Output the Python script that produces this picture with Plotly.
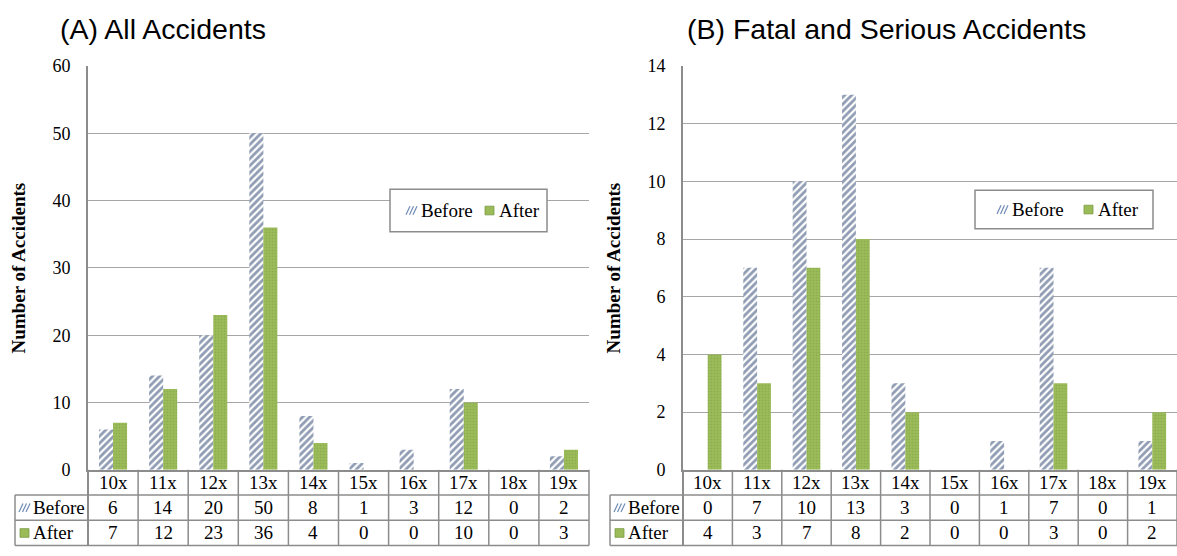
import plotly.graph_objects as go

# ---- data -----------------------------------------------------------------
categories = ["10x", "11x", "12x", "13x", "14x", "15x", "16x", "17x", "18x", "19x"]
all_before = [6, 14, 20, 50, 8, 1, 3, 12, 0, 2]
all_after = [7, 12, 23, 36, 4, 0, 0, 10, 0, 3]
fs_before = [0, 7, 10, 13, 3, 0, 1, 7, 0, 1]
fs_after = [4, 3, 7, 8, 2, 0, 0, 3, 0, 2]
series_names = ["Before", "After"]
panel_titles = ["(A) All Accidents", "(B) Fatal and Serious Accidents"]
y_title = "Number of Accidents"
y_max = [60, 14]
y_step = [10, 2]

# ---- page geometry (pixels) -----------------------------------------------
W, H = 1177, 556
PLOT_TOP, PLOT_BOTTOM = 58, 477
ROW_H = 26.2
SERIF = "Liberation Serif, Times New Roman, serif"
SANS = "Liberation Sans, Arial, sans-serif"
LINE = "#8C8C8C"
BEFORE_FG, BEFORE_BG = "#1F3A68", "#FFFFFF"
AFTER_FG, AFTER_BG = "#7A9A45", "#9BBB59"
KEY_HATCH = "#6F8BB5"
TXT = 19

panels = [
    dict(before=all_before, after=all_after, left=88, right=589, label_left=15,
         title_x=58, box=(390, 186, 547, 230), keys=(407, 485)),
    dict(before=fs_before, after=fs_after, left=683, right=1177, label_left=610,
         title_x=685, box=(975, 187, 1153, 227), keys=(998, 1084)),
]


def fx(p):
    return p / W


def fy(p):
    return 1 - p / H


before_marker = dict(color=BEFORE_BG, line=dict(width=0),
                     pattern=dict(shape="/", fgcolor=BEFORE_FG, bgcolor=BEFORE_BG,
                                  size=5, solidity=0.55))
after_marker = dict(color=AFTER_BG, line=dict(width=0),
                    pattern=dict(shape=".", fgcolor=AFTER_FG, bgcolor=AFTER_BG,
                                 size=3, solidity=0.25))

fig = go.Figure()
shapes = []
annotations = []
layout_axes = {}


def key_swatch(series_idx, x0, yc):
    """Small key: hatched strokes for the first series, green square for the second."""
    if series_idx == 0:
        for d in (0, 3.5, 7):
            shapes.append(dict(type="line", xref="paper", yref="paper", layer="above",
                               x0=fx(x0 + d - 1), y0=fy(yc + 4.5),
                               x1=fx(x0 + d + 3), y1=fy(yc - 4.5),
                               line=dict(color=KEY_HATCH, width=1.2)))
    else:
        shapes.append(dict(type="rect", xref="paper", yref="paper", layer="above",
                           x0=fx(x0), x1=fx(x0 + 9), y0=fy(yc - 4.5), y1=fy(yc + 4.5),
                           fillcolor=AFTER_BG, line=dict(color=AFTER_FG, width=0.8)))


for k, p in enumerate(panels):
    suffix = "" if k == 0 else str(k + 1)
    xa, ya = "x" + suffix, "y" + suffix

    for name, vals, marker in ((series_names[0], p["before"], before_marker),
                               (series_names[1], p["after"], after_marker)):
        fig.add_trace(go.Bar(x=categories, y=vals, name=name, marker=marker,
                             xaxis=xa, yaxis=ya, showlegend=False,
                             hoverinfo="skip"))

    layout_axes["xaxis" + suffix] = dict(
        domain=[fx(p["left"]), min(1.0, fx(p["right"]))],
        anchor=ya, type="category", range=[-0.5, len(categories) - 0.5],
        showticklabels=False, ticks="", showgrid=False, zeroline=False,
        showline=True, linecolor=LINE, linewidth=2, fixedrange=True)
    layout_axes["yaxis" + suffix] = dict(
        domain=[fy(PLOT_BOTTOM), fy(PLOT_TOP)], anchor=xa,
        range=[0, y_max[k]], dtick=y_step[k], tick0=0,
        showgrid=True, gridcolor="#A6A6A6", gridwidth=1.3, zeroline=False,
        showline=True, linecolor=LINE, linewidth=2, ticks="",
        ticklabelstandoff=12, tickfont=dict(family=SERIF, size=18, color="black"),
        fixedrange=True)

    # panel title
    annotations.append(dict(text=panel_titles[k], xref="paper", yref="paper",
                            x=fx(p["title_x"]), y=fy(20), xanchor="left", yanchor="middle",
                            showarrow=False, font=dict(family=SANS, size=28.5, color="black")))
    # y axis title
    annotations.append(dict(text="<b>" + y_title + "</b>", xref="paper", yref="paper",
                            x=fx(p["left"] - 69.5), y=fy((PLOT_TOP + PLOT_BOTTOM) / 2),
                            textangle=-90, xanchor="center", yanchor="middle",
                            showarrow=False, font=dict(family=SERIF, size=TXT, color="black")))

    # legend box with keys
    bx0, by0, bx1, by1 = p["box"]
    shapes.append(dict(type="rect", xref="paper", yref="paper", layer="above",
                       x0=fx(bx0), x1=fx(bx1), y0=fy(by0), y1=fy(by1),
                       fillcolor="white", line=dict(color=LINE, width=1.5)))
    ly = (by0 + by1) / 2
    for s, kx in enumerate(p["keys"]):
        key_swatch(s, kx, ly)
        annotations.append(dict(text=series_names[s], xref="paper", yref="paper",
                                x=fx(kx + 12), y=fy(ly), xanchor="left", yanchor="middle",
                                showarrow=False,
                                font=dict(family=SERIF, size=TXT, color="black")))

    # data table under the plot
    rows_y = [PLOT_BOTTOM + ROW_H * i for i in range(4)]
    xdom = xa + " domain"
    n = len(categories)
    for i in (1, 2, 3):
        shapes.append(dict(type="line", xref="paper", yref="paper",
                           x0=fx(p["label_left"]), x1=min(1.0, fx(p["right"])),
                           y0=fy(rows_y[i]), y1=fy(rows_y[i]),
                           line=dict(color=LINE, width=1.5)))
    for i in range(n + 1):
        shapes.append(dict(type="line", xref=xdom, yref="paper",
                           x0=i / n, x1=i / n, y0=fy(rows_y[0]), y1=fy(rows_y[3]),
                           line=dict(color=LINE, width=2 if i == 0 else 1.5)))
    shapes.append(dict(type="line", xref="paper", yref="paper",
                       x0=fx(p["label_left"]), x1=fx(p["label_left"]),
                       y0=fy(rows_y[1]), y1=fy(rows_y[3]),
                       line=dict(color=LINE, width=1.5)))

    for c in categories:
        annotations.append(dict(text=c, xref=xa, yref="paper", x=c,
                                y=fy((rows_y[0] + rows_y[1]) / 2), showarrow=False,
                                xanchor="center", yanchor="middle",
                                font=dict(family=SERIF, size=TXT, color="black")))
    for r, vals in enumerate((p["before"], p["after"])):
        yc = (rows_y[r + 1] + rows_y[r + 2]) / 2
        for c, v in zip(categories, vals):
            annotations.append(dict(text=str(v), xref=xa, yref="paper", x=c, y=fy(yc),
                                    showarrow=False, xanchor="center", yanchor="middle",
                                    font=dict(family=SERIF, size=TXT, color="black")))
        sx = p["label_left"] + 5
        key_swatch(r, sx, yc)
        annotations.append(dict(text=series_names[r], xref="paper", yref="paper",
                                x=fx(sx + 11), y=fy(yc), xanchor="left", yanchor="middle",
                                showarrow=False,
                                font=dict(family=SERIF, size=TXT, color="black")))

fig.update_layout(
    width=W, height=H, margin=dict(l=0, r=0, t=0, b=0),
    paper_bgcolor="white", plot_bgcolor="white",
    barmode="group", bargap=0.44, bargroupgap=0,
    shapes=shapes, annotations=annotations,
    **layout_axes,
)

fig.write_html("out.html")
